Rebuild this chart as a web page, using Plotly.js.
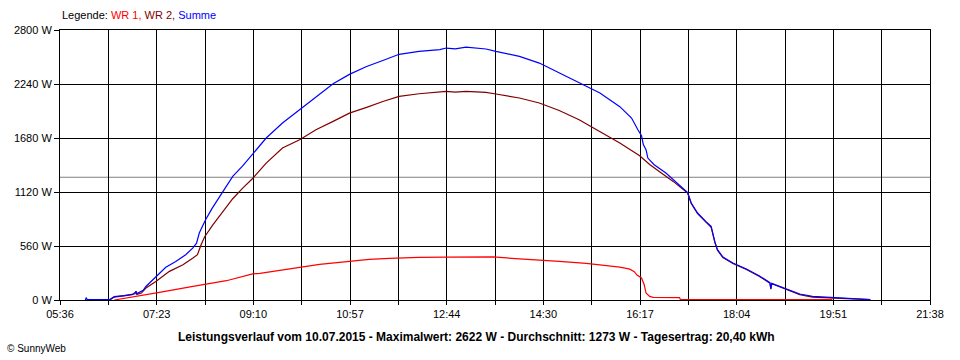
<!DOCTYPE html>
<html>
<head>
<meta charset="utf-8">
<script src="https://cdn.plot.ly/plotly-3.0.1.min.js"></script>
<style>html,body{margin:0;padding:0;background:#fff;}#chart{width:960px;height:360px;}</style>
</head>
<body>
<div id="chart"></div>
<script>
// ---- data ----
const xTickLabels = ["05:36","07:23","09:10","10:57","12:44","14:30","16:17","18:04","19:51","21:38"];
const yTickValues = [0, 560, 1120, 1680, 2240, 2800];
const avgValue = 1273;

const wr1Times = ["06:36","06:49","07:08","07:26","08:03","08:17","08:40","09:09","09:17","10:23","10:56","11:18","11:40","12:13","12:43","13:35","14:04","14:26","14:48","15:18","15:47","15:55","16:02","16:06","16:11","16:13","16:14","16:19","16:22","16:24","16:28","16:32","17:01","17:02","19:50"];
const wr1Values = [0,20,48,79,141,162,200,270,277,370,400,422,432,443,445,447,426,415,401,380,352,340,328,320,294,272,259,228,158,72,37,27,25,5,3];

const wr2Times = ["06:31","06:36","06:56","07:00","07:01","07:06","07:11","07:22","07:37","07:52","08:03","08:08","08:12","08:16","08:25","08:36","08:47","08:58","09:09","09:24","09:42","10:01","10:19","10:38","10:56","11:15","11:33","11:51","12:13","12:43","12:53","13:05","13:27","13:38","14:04","14:26","14:48","15:10","15:33","15:55","16:17","16:28","16:39","16:54","17:10","17:14","17:21","17:30","17:36","17:40","17:43","17:49","18:00","18:15","18:29","18:41","18:42","18:43","18:59","19:14","19:28","19:50","20:05","20:32"];
const wr2Values = [0,30,55,85,58,72,124,193,297,366,435,470,573,656,780,918,1050,1160,1260,1420,1576,1662,1766,1852,1938,1997,2059,2111,2139,2163,2155,2163,2153,2136,2095,2043,1965,1870,1748,1628,1496,1405,1330,1230,1110,1000,895,808,755,600,515,440,378,316,246,175,112,168,108,56,30,20,10,3];

const sumTimes = ["06:04","06:05","06:06","06:31","06:36","06:47","06:59","07:00","07:01","07:08","07:11","07:22","07:33","07:44","07:55","08:03","08:07","08:10","08:17","08:24","08:36","08:47","08:58","09:09","09:24","09:42","10:01","10:19","10:38","10:56","11:15","11:33","11:51","12:13","12:36","12:43","12:53","13:05","13:27","13:38","14:04","14:26","14:48","15:10","15:33","15:55","16:08","16:15","16:19","16:21","16:24","16:26","16:33","16:46","17:01","17:10","17:14","17:21","17:30","17:36","17:40","17:43","17:49","18:00","18:15","18:29","18:41","18:42","18:43","18:59","19:14","19:28","19:50","20:05","20:32"];
const sumValues = [0,25,3,5,35,45,65,90,66,100,140,245,340,400,470,540,590,695,833,947,1115,1282,1390,1517,1680,1835,1973,2111,2243,2340,2422,2484,2548,2578,2596,2613,2605,2622,2603,2578,2526,2457,2355,2248,2146,2005,1887,1766,1704,1611,1559,1472,1403,1317,1196,1115,1006,902,815,763,608,522,446,384,322,252,180,117,172,114,62,37,27,13,5];

// ---- helpers ----
function toMin(s){ const p = s.split(":"); return (+p[0])*60 + (+p[1]); }

const xStart = toMin(xTickLabels[0]);
const xEnd = toMin(xTickLabels[xTickLabels.length-1]);
const nMajor = xTickLabels.length - 1;
const tickvals = [], ticktext = [];
for (let k = 0; k <= nMajor*2; k++) {
  tickvals.push(xStart + k*(xEnd - xStart)/(nMajor*2));
  ticktext.push(k % 2 === 0 ? xTickLabels[k/2] : "");
}

const font = "Liberation Sans, Arial, sans-serif";

const traces = [
  {x: wr1Times.map(toMin), y: wr1Values, type: "scatter", mode: "lines", name: "WR 1",
   line: {color: "#ff0000", width: 1.2}, hoverinfo: "skip"},
  {x: wr2Times.map(toMin), y: wr2Values, type: "scatter", mode: "lines", name: "WR 2",
   line: {color: "#800000", width: 1.2}, hoverinfo: "skip"},
  {x: sumTimes.map(toMin), y: sumValues, type: "scatter", mode: "lines", name: "Summe",
   line: {color: "#0000ff", width: 1.2}, hoverinfo: "skip"}
];

const layout = {
  width: 960, height: 360,
  margin: {l: 60, r: 30, t: 30, b: 60, pad: 0},
  paper_bgcolor: "#ffffff", plot_bgcolor: "#ffffff",
  showlegend: false,
  font: {family: font, size: 11, color: "#000"},
  xaxis: {
    range: [xStart, xEnd], tickmode: "array", tickvals: tickvals, ticktext: ticktext,
    showgrid: true, gridcolor: "#000", gridwidth: 1,
    showline: true, linecolor: "#000", linewidth: 1, mirror: true,
    ticks: "outside", ticklen: 4, tickcolor: "#000", tickwidth: 1,
    zeroline: false, fixedrange: true,
    tickfont: {family: font, size: 11, color: "#000"}
  },
  yaxis: {
    range: [0, 2800], tickmode: "array", tickvals: yTickValues,
    ticktext: yTickValues.map(v => v + " W"),
    showgrid: true, gridcolor: "#000", gridwidth: 1,
    showline: true, linecolor: "#000", linewidth: 1, mirror: true,
    ticks: "outside", ticklen: 5, tickcolor: "#000", tickwidth: 1,
    zeroline: false, fixedrange: true,
    tickfont: {family: font, size: 11, color: "#000"}
  },
  shapes: [
    {type: "line", xref: "paper", x0: 0, x1: 1, yref: "y", y0: avgValue, y1: avgValue,
     line: {color: "#808080", width: 1}, layer: "below"}
  ],
  annotations: [
    {xref: "paper", yref: "paper", x: 0, y: 1, yshift: 7, xanchor: "left", yanchor: "bottom", showarrow: false,
     text: 'Legende: <span style="color:#ff0000">WR 1, </span><span style="color:#800000">WR 2, </span><span style="color:#0000ff">Summe</span>',
     font: {family: font, size: 11, color: "#000"}},
    {xref: "paper", yref: "paper", x: 0.479, y: 0, yshift: -37, xanchor: "center", yanchor: "middle", showarrow: false,
     text: "<b>Leistungsverlauf vom 10.07.2015 - Maximalwert: 2622 W - Durchschnitt: 1273 W - Tagesertrag: 20,40 kWh</b>",
     font: {family: font, size: 12, color: "#000"}},
    {xref: "paper", yref: "paper", x: -0.063, y: 0, yshift: -48, xanchor: "left", yanchor: "middle", showarrow: false,
     text: "© SunnyWeb", font: {family: font, size: 10, color: "#000"}}
  ]
};

Plotly.newPlot("chart", traces, layout, {staticPlot: true, displayModeBar: false});
</script>
</body>
</html>
